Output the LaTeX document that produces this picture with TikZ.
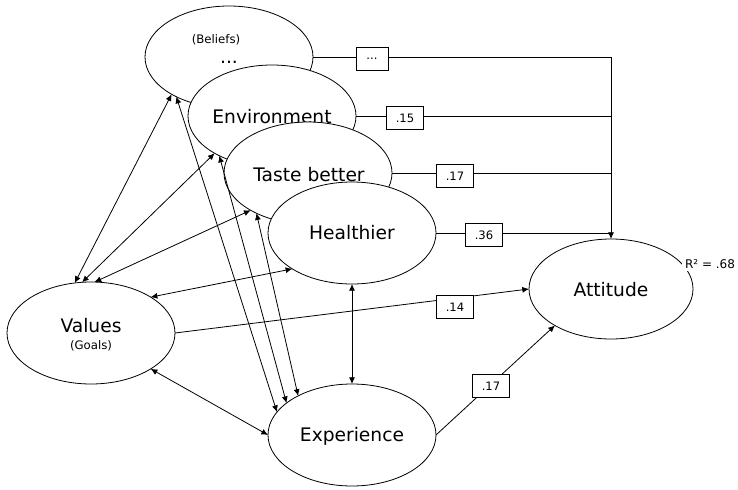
\documentclass[tikz,border=0pt]{standalone}
\usepackage{fontspec}
\setmainfont{DejaVu Sans}
\usetikzlibrary{arrows.meta,shapes.geometric}
\begin{document}
\begin{tikzpicture}[x=0.75pt,y=-0.75pt,line width=0.6pt,
  latent/.style={draw,ellipse,fill=white,minimum width=126pt,minimum height=76.5pt,inner sep=0pt,outer sep=0pt},
  big/.style={font=\fontsize{14}{16}\selectfont,inner sep=0pt},
  small/.style={font=\fontsize{8.8}{10}\selectfont,inner sep=0pt},
  coef/.style={draw,fill=white,font=\fontsize{8.7}{10}\selectfont,minimum width=28pt,minimum height=17.5pt,inner sep=1pt},
  tip/.style={-{Latex[length=5pt,width=4.5pt]}},
  both/.style={{Latex[length=5pt,width=4.5pt]}-{Latex[length=5pt,width=4.5pt]}}]
\useasboundingbox (0,0) rectangle (738,489);

% stacked belief constructs, each drawn over the previous one
\node[latent] (beliefs) at (229,57) {};
\node[small] (beliefslbl) at (216,40) {(Beliefs)};
\node[big] (beliefsdots) at (229,62) {...};
\node[latent] (env) at (272,116) {};
\node[big] (envlbl) at (272,117) {Environment};
\node[latent] (taste) at (308,173) {};
\node[big] (tastelbl) at (309,175) {Taste better};
\node[latent] (health) at (352,233) {};
\node[big] (healthlbl) at (352,233) {Healthier};

% remaining constructs
\node[latent] (values) at (91,333) {};
\node[big] (valueslbl) at (91,326) {Values};
\node[small] (goalslbl) at (91,346) {(Goals)};
\node[latent] (exp) at (352,435) {};
\node[big] (explbl) at (352,436) {Experience};
\node[latent,minimum width=123pt,minimum height=75pt] (att) at (611,289) {};
\node[big] (attlbl) at (611,290) {Attitude};
\node[font=\fontsize{9}{10}\selectfont,fill=white,inner sep=2pt,anchor=west] (r2) at (682,264) {R² = .68};

% correlations
\draw[both] (values.108) -- (beliefs.213);
\draw[both] (values.100) -- (env.213);
\draw[both] (values.86) -- (taste.213);
\draw[both] (values.31) -- (health.211);
\draw[both] (values.329) -- (exp.west);
\draw[both] (health.south) -- (exp.north);
\draw[both] (beliefs.217) -- (exp.163);
\draw[both] (env.217) -- (exp.154);
\draw[both] (taste.218) -- (exp.144);

% paths to attitude
\draw[tip] (beliefs.east) -| (att.north);
\draw (env.east) -- (env.east -| att.north);
\draw (taste.east) -- (taste.east -| att.north);
\draw (health.east) -- (health.east -| att.north);
\draw[tip] (values.east) -- (att.west);
\draw[tip] (exp.east) -- (att.213);

% path coefficients
\node[coef,minimum width=24pt] (c1) at (372,59) {...};
\node[coef] (c2) at (405,118) {.15};
\node[coef] (c3) at (455,176) {.17};
\node[coef] (c4) at (484,235) {.36};
\node[coef] (c5) at (455,307) {.14};
\node[coef] (c6) at (491,386) {.17};
\end{tikzpicture}
\end{document}
